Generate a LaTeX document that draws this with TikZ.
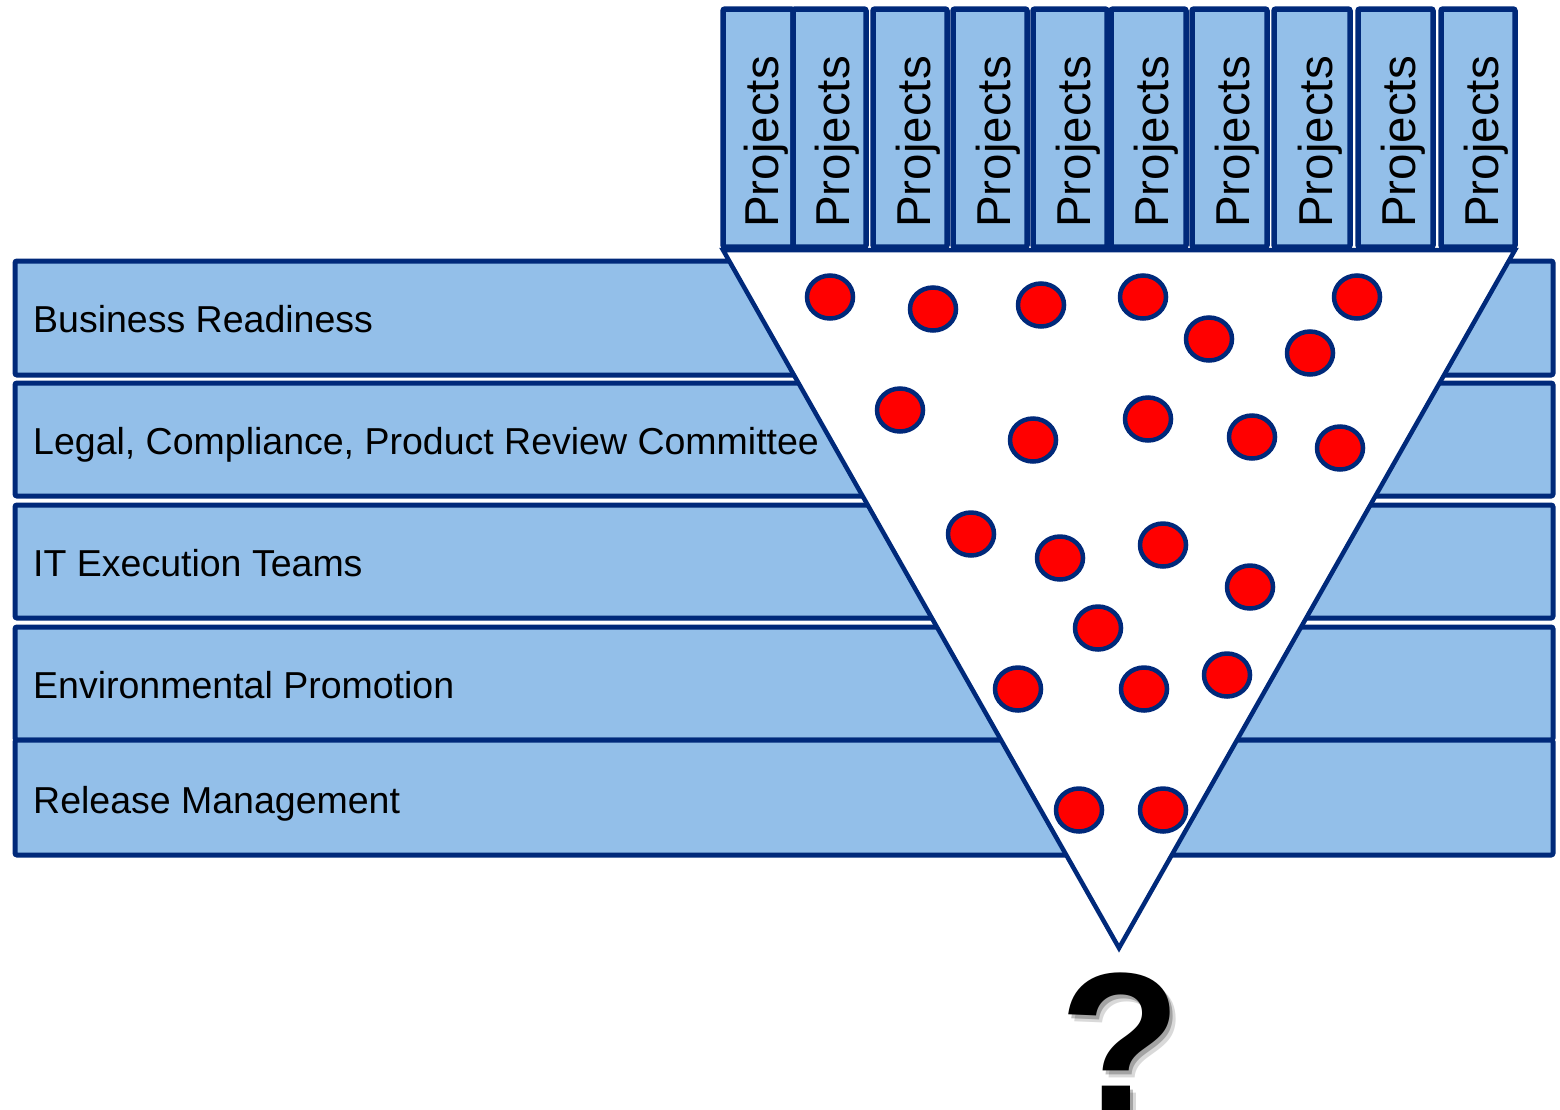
\documentclass[tikz,border=0pt]{standalone}
\usepackage{fontspec}
\setmainfont{Liberation Sans}
\usetikzlibrary{shapes.geometric}
\definecolor{navy}{RGB}{0,41,122}
\definecolor{lightblue}{RGB}{147,191,233}
\definecolor{dotred}{RGB}{255,0,0}
\tikzset{
  rowbox/.style={draw=navy, fill=lightblue, line width=5pt, rounded corners=2pt, minimum width=1538pt, inner sep=0pt},
  rowtext/.style={anchor=base west, inner sep=0pt, font=\fontsize{37.5}{44}\selectfont},
  projbox/.style={draw=navy, fill=lightblue, line width=5.5pt, rounded corners=2pt, minimum height=238pt, inner sep=0pt},
  projtext/.style={rotate=90, anchor=west, inner sep=0pt, font=\fontsize{47.5}{56}\selectfont},
  tri/.style={draw=navy, fill=white, line width=4.5pt, line join=miter},
  reddot/.style={ellipse, draw=navy, fill=dotred, line width=4.5pt, minimum width=46pt, minimum height=43pt, inner sep=0pt},
}
\begin{document}
\begin{tikzpicture}[x=1pt,y=-1pt]
\useasboundingbox (0,0) rectangle (1560,1109);
\clip (0,0) rectangle (1560,1109);
% rows
\node[rowbox, minimum height=114pt] (r1) at (784,318) {};
\node[rowbox, minimum height=113pt] (r2) at (784,439.5) {};
\node[rowbox, minimum height=113pt] (r3) at (784,561.5) {};
\node[rowbox, minimum height=113pt] (r4) at (784,683.5) {};
\node[rowbox, minimum height=115pt] (r5) at (784,797.5) {};
\node[rowtext] (t1) at (33,332.5) {Business Readiness};
\node[rowtext] (t2) at (33,454) {Legal, Compliance, Product Review Committee};
\node[rowtext] (t3) at (33,576) {IT Execution Teams};
\node[rowtext] (t4) at (33,698) {Environmental Promotion};
\node[rowtext] (t5) at (33,813) {Release Management};
% funnel
\coordinate (fl) at (723,250);
\coordinate (fr) at (1515,250);
\coordinate (fb) at (1119,948);
\draw[tri] (fl) -- (fr) -- (fb) -- cycle;
% project columns
\foreach \i/\c/\w in {1/758/70,2/829.5/73,3/910/74,4/990/74,5/1070/74,6/1148.5/75,7/1229.5/75,8/1312/76,9/1395.5/75,10/1478/74}{
  \node[projbox, minimum width=\w pt] (p\i) at (\c,128) {};
  \node[projtext] (pt\i) at (\c+8,228) {Projects};
}
% dots
\foreach \i/\x/\y in {1/830/297,2/933/309,3/1041/305,4/1143/297,5/1209/339,6/1310/353,7/1357/297,
  8/900/410,9/1033/440,10/1148/419,11/1252/437,12/1340/448,
  13/971/534,14/1060/558,15/1163/545,16/1250/587,17/1098/628,
  18/1018/689,19/1144/689,20/1227/675,21/1079/810,22/1163/810}{
  \node[reddot] (d\i) at (\x,\y) {};
}
% question mark with soft shadow
\node[anchor=base, inner sep=0pt, text=black, opacity=0.15, font=\fontsize{200}{240}\bfseries\selectfont] (qs2) at (1127,1119) {?};
\node[anchor=base, inner sep=0pt, text=black, opacity=0.25, font=\fontsize{200}{240}\bfseries\selectfont] (qs) at (1124,1116) {?};
\node[anchor=base, inner sep=0pt, font=\fontsize{200}{240}\bfseries\selectfont] (q) at (1121,1112) {?};
\end{tikzpicture}
\end{document}
